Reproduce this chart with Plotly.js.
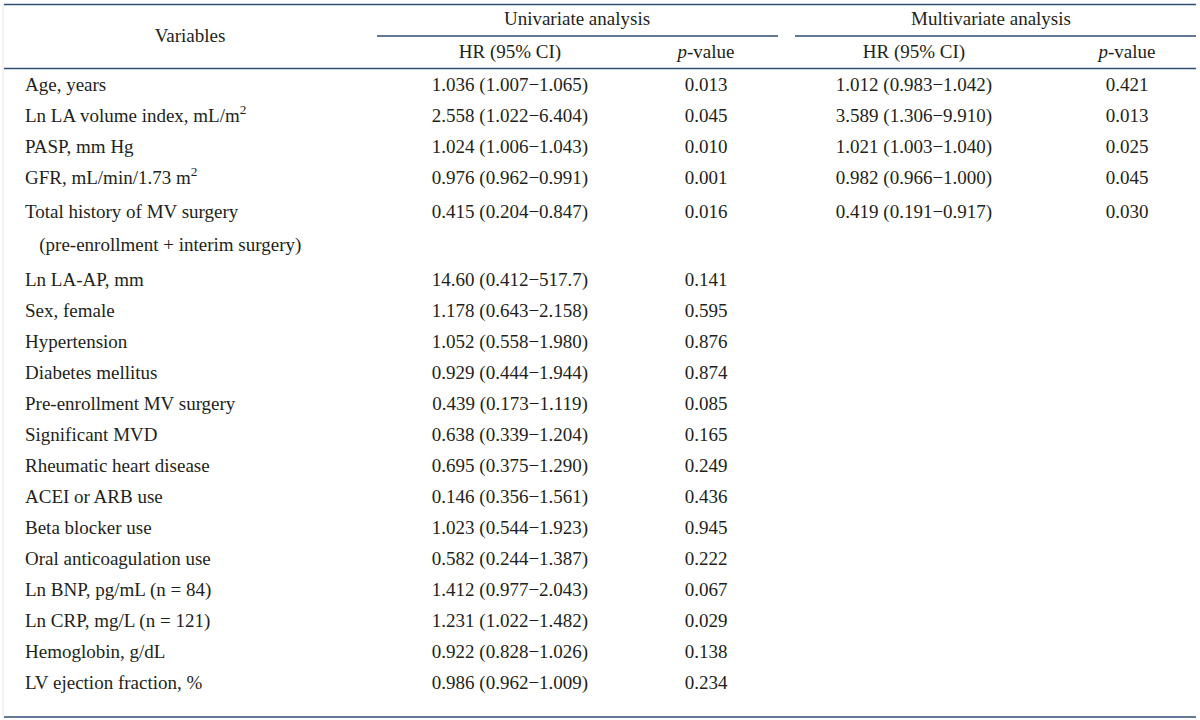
<!DOCTYPE html>
<html>
<head>
<meta charset="utf-8">
<script src="https://cdn.plot.ly/plotly-3.0.1.min.js"></script>
<style>
  html, body { margin: 0; padding: 0; background: #fff; }
  #chart { width: 1200px; height: 720px; }
</style>
</head>
<body>
<div id="chart"></div>
<script>
// --- Table content ---
const variables = [
  'Age, years',
  'Ln LA volume index, mL/m<sup>2</sup>',
  'PASP, mm Hg',
  'GFR, mL/min/1.73 m<sup>2</sup>',
  'Total history of MV surgery',
  '   (pre-enrollment + interim surgery)',
  'Ln LA-AP, mm',
  'Sex, female',
  'Hypertension',
  'Diabetes mellitus',
  'Pre-enrollment MV surgery',
  'Significant MVD',
  'Rheumatic heart disease',
  'ACEI or ARB use',
  'Beta blocker use',
  'Oral anticoagulation use',
  'Ln BNP, pg/mL (n = 84)',
  'Ln CRP, mg/L (n = 121)',
  'Hemoglobin, g/dL',
  'LV ejection fraction, %'
];
const uniHR = [
  '1.036 (1.007−1.065)', '2.558 (1.022−6.404)', '1.024 (1.006−1.043)', '0.976 (0.962−0.991)',
  '0.415 (0.204−0.847)', '', '14.60 (0.412−517.7)', '1.178 (0.643−2.158)',
  '1.052 (0.558−1.980)', '0.929 (0.444−1.944)', '0.439 (0.173−1.119)', '0.638 (0.339−1.204)',
  '0.695 (0.375−1.290)', '0.146 (0.356−1.561)', '1.023 (0.544−1.923)', '0.582 (0.244−1.387)',
  '1.412 (0.977−2.043)', '1.231 (1.022−1.482)', '0.922 (0.828−1.026)', '0.986 (0.962−1.009)'
];
const uniP = [
  '0.013', '0.045', '0.010', '0.001', '0.016', '', '0.141', '0.595', '0.876', '0.874',
  '0.085', '0.165', '0.249', '0.436', '0.945', '0.222', '0.067', '0.029', '0.138', '0.234'
];
const multiHR = [
  '1.012 (0.983−1.042)', '3.589 (1.306−9.910)', '1.021 (1.003−1.040)', '0.982 (0.966−1.000)',
  '0.419 (0.191−0.917)'
];
const multiP = ['0.421', '0.013', '0.025', '0.045', '0.030'];

// --- Layout geometry ---
const W = 1200, H = 720;
const ROW0 = 86, STEP = 31;
function rowY(i) {
  let y = ROW0 + STEP * i;
  if (i >= 4) y += 3;
  if (i >= 5) y += 2;
  if (i >= 6) y += 4;
  return y;
}
const rowsY = variables.map((_, i) => rowY(i));

const FONT = 'Liberation Serif, Times New Roman, serif';
const TXT = '#231f20';
const LINE = '#2f4b72';
const FS = 19;

const colX = { varLeft: 25, uniHR: 510, uniP: 706, multiHR: 914, multiP: 1127 };

// one text trace per column, skipping empty cells
function textTrace(x, ys, texts, pos) {
  const keep = texts.map((t, i) => i).filter(i => texts[i] !== '');
  return {
    x: keep.map(() => x), y: keep.map(i => ys[i]), text: keep.map(i => texts[i]),
    type: 'scatter', mode: 'text',
    textposition: pos, cliponaxis: false, hoverinfo: 'skip', showlegend: false,
    textfont: { family: FONT, size: FS, color: TXT }
  };
}

const headX = [190, 577, 991, colX.uniHR, colX.uniP, colX.multiHR, colX.multiP];
const headY = [37, 20, 20, 53, 53, 53, 53];
const headText = ['Variables', 'Univariate analysis', 'Multivariate analysis',
                  'HR (95% CI)', '<i>p</i>-value', 'HR (95% CI)', '<i>p</i>-value'];

const traces = [
  textTrace(colX.varLeft, rowsY, variables, 'middle right'),
  textTrace(colX.uniHR, rowsY, uniHR, 'middle center'),
  textTrace(colX.uniP, rowsY, uniP, 'middle center'),
  textTrace(colX.multiHR, rowsY, multiHR, 'middle center'),
  textTrace(colX.multiP, rowsY, multiP, 'middle center'),
  {
    x: headX, y: headY, text: headText, type: 'scatter', mode: 'text',
    textposition: 'middle center', cliponaxis: false, hoverinfo: 'skip', showlegend: false,
    textfont: { family: FONT, size: FS, color: TXT }
  }
];

function hline(x0, x1, y, w) {
  return { type: 'line', xref: 'x', yref: 'y', x0: x0, x1: x1, y0: y, y1: y,
           line: { color: LINE, width: w } };
}

const layout = {
  width: W, height: H,
  margin: { l: 0, r: 0, t: 0, b: 0 },
  paper_bgcolor: '#ffffff', plot_bgcolor: '#ffffff',
  xaxis: { range: [0, W], visible: false, fixedrange: true },
  yaxis: { range: [H, 0], visible: false, fixedrange: true },
  shapes: [
    hline(4, 1196, 4.5, 1.6),
    hline(377, 778, 36, 1.4),
    hline(795, 1196, 36, 1.4),
    hline(4, 1196, 68.5, 1.4),
    hline(4, 1196, 717, 1.6),
    { type: 'line', xref: 'x', yref: 'y', x0: 3, x1: 3, y0: 4, y1: 717,
      line: { color: '#e6e6e6', width: 1 } }
  ]
};

Plotly.newPlot('chart', traces, layout, { displayModeBar: false, staticPlot: true });
</script>
</body>
</html>
